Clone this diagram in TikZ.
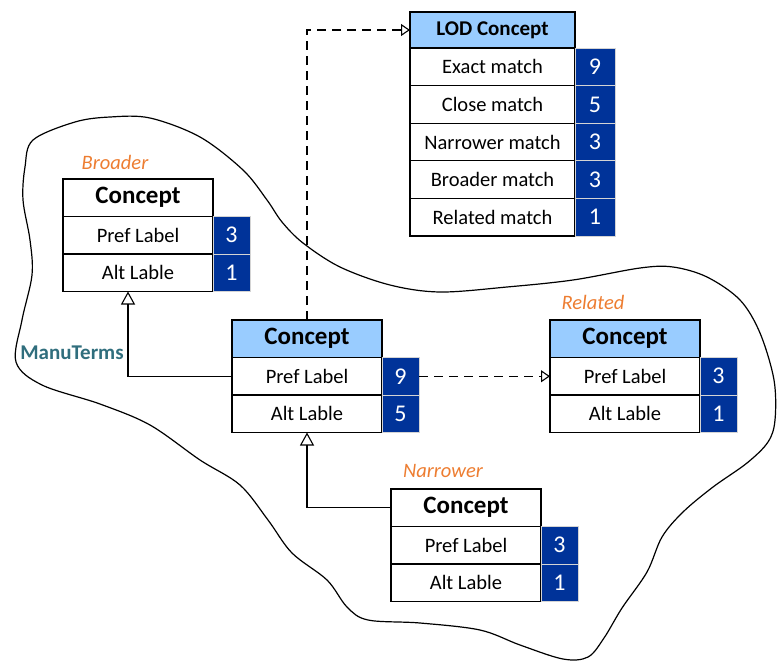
\documentclass[tikz,border=0pt]{standalone}
\usepackage{fontspec}
\setmainfont{Carlito}
\usetikzlibrary{arrows.meta}
\definecolor{hdrblue}{HTML}{99CCFF}
\definecolor{numblue}{HTML}{003399}
\definecolor{numedge}{HTML}{D4D4D4}
\definecolor{tagorange}{HTML}{ED7D31}
\definecolor{teal}{HTML}{306E7D}
\tikzset{
  cell/.style={draw=black, line width=1.2pt, inner sep=0pt, outer sep=0pt,
    anchor=north west, minimum width=150pt, minimum height=37.5pt,
    fill=white, font=\fontsize{20.5}{22}\selectfont},
  hdr/.style={cell, font=\fontsize{25}{27}\selectfont\bfseries},
  lodhdr/.style={cell, fill=hdrblue, minimum width=165pt, minimum height=36pt,
    font=\fontsize{21}{23}\selectfont\bfseries},
  lodcell/.style={cell, minimum width=165pt, minimum height=37.6pt},
  num/.style={draw=numedge, line width=0.8pt, fill=numblue, text=white,
    inner sep=0pt, outer sep=0pt, anchor=north west, minimum width=37pt,
    minimum height=37.5pt, font=\fontsize{24}{26}\selectfont},
  lodnum/.style={num, minimum width=40pt, minimum height=37.6pt},
  tag/.style={text=tagorange, font=\fontsize{20.5}{22}\selectfont\itshape},
  link/.style={line width=1.1pt},
  inherit/.style={link, -{Triangle[open, length=13pt, width=14pt, line width=1.1pt]}},
  ref/.style={link, dash pattern=on 9pt off 6pt,
    -{Triangle[open, length=9pt, width=12pt, line width=1.1pt]}},
  blob/.style={line width=1.2pt}
}
\begin{document}
\begin{tikzpicture}[x=1pt, y=-1pt]
\useasboundingbox (0,0) rectangle (778,661);

% outline of the ManuTerms vocabulary
\draw[blob] plot[smooth cycle, tension=0.55] coordinates {
  (33,140) (75,122) (110,117) (150,118) (200,137) (243,170) (267,200)
  (282,222) (303,243) (340,267) (390,285) (440,292) (507,287) (573,280)
  (640,268) (673,267) (707,277) (740,300) (760,333) (774,380) (775,420)
  (768,442) (747,463) (713,487) (683,512) (662,537) (647,572) (622,608)
  (604,638) (588,657) (563,659) (520,645) (480,630) (420,623) (368,620)
  (347,607) (327,580) (292,553) (268,520) (240,485) (200,460) (150,425)
  (100,404) (42,385) (16,362) (22,320) (32,275) (30,240) (23,200) (25,167)};

% LOD concept
\node[lodhdr] (lod-h) at (410,12) {LOD Concept};
\node[lodcell] (lod-r1) at (410,48) {Exact match};
\node[lodcell] (lod-r2) at (410,85.6) {Close match};
\node[lodcell] (lod-r3) at (410,123.2) {Narrower match};
\node[lodcell] (lod-r4) at (410,160.8) {Broader match};
\node[lodcell] (lod-r5) at (410,198.4) {Related match};
\node[lodnum] (lod-n1) at (575,48) {9};
\node[lodnum] (lod-n2) at (575,85.6) {5};
\node[lodnum] (lod-n3) at (575,123.2) {3};
\node[lodnum] (lod-n4) at (575,160.8) {3};
\node[lodnum] (lod-n5) at (575,198.4) {1};

% broader concept
\node[tag] (bro-tag) at (115,162) {Broader};
\node[hdr] (bro-h) at (63,179) {Concept};
\node[cell] (bro-pref) at (63,216.5) {Pref Label};
\node[cell] (bro-alt) at (63,254) {Alt Lable};
\node[num] (bro-n1) at (213,216.5) {3};
\node[num] (bro-n2) at (213,254) {1};

% central concept
\node[hdr, fill=hdrblue] (cen-h) at (232,320) {Concept};
\node[cell] (cen-pref) at (232,357.5) {Pref Label};
\node[cell] (cen-alt) at (232,395) {Alt Lable};
\node[num] (cen-n1) at (382,357.5) {9};
\node[num] (cen-n2) at (382,395) {5};

% related concept
\node[tag] (rel-tag) at (593,302) {Related};
\node[hdr, fill=hdrblue] (rel-h) at (550,320) {Concept};
\node[cell] (rel-pref) at (550,357.5) {Pref Label};
\node[cell] (rel-alt) at (550,395) {Alt Lable};
\node[num] (rel-n1) at (700,357.5) {3};
\node[num] (rel-n2) at (700,395) {1};

% narrower concept
\node[tag] (nar-tag) at (443,471) {Narrower};
\node[hdr] (nar-h) at (391,489) {Concept};
\node[cell] (nar-pref) at (391,526.5) {Pref Label};
\node[cell] (nar-alt) at (391,564) {Alt Lable};
\node[num] (nar-n1) at (541,526.5) {3};
\node[num] (nar-n2) at (541,564) {1};

% vocabulary name
\node[text=teal, font=\fontsize{21}{23}\selectfont\bfseries] (voc) at (72,353) {ManuTerms};

% connectors
\draw[inherit] (cen-pref.west) -| ([xshift=-10pt]bro-alt.south);
\draw[inherit] (nar-h.west) -| (cen-alt.south);
\draw[ref] (cen-h.north) |- (lod-h.west);
\draw[ref] (cen-n1.east) -- (rel-pref.west);
\end{tikzpicture}
\end{document}
